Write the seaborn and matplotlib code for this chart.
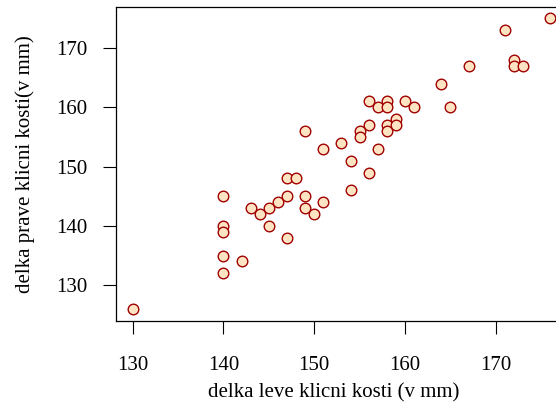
import seaborn as sns
import pandas as pd
import matplotlib.pyplot as plt

# left / right clavicle lengths (mm)
leva = [130, 140, 140, 140, 140, 140, 142, 143, 144, 145, 145, 146, 147, 147,
        148, 147, 149, 149, 149, 150, 151, 151, 153, 154, 154, 155, 155, 156,
        156, 156, 157, 157, 158, 158, 158, 158, 159, 159, 160, 161, 164, 165,
        167, 171, 172, 172, 173, 176]
prava = [126, 145, 140, 139, 135, 132, 134, 143, 142, 143, 140, 144, 145, 148,
         148, 138, 156, 145, 143, 142, 153, 144, 154, 151, 146, 156, 155, 157,
         161, 149, 160, 153, 161, 160, 157, 156, 158, 157, 161, 160, 164, 160,
         167, 173, 168, 167, 167, 175]

df = pd.DataFrame({'leva': leva, 'prava': prava})

sns.set_style('ticks')
plt.rcParams['font.family'] = ['Liberation Serif', 'DejaVu Serif']
plt.rcParams['text.color'] = 'black'
plt.rcParams['axes.labelcolor'] = 'black'
plt.rcParams['xtick.color'] = 'black'
plt.rcParams['ytick.color'] = 'black'

fig = plt.figure(figsize=(5.56, 4.05), dpi=100)
ax = fig.add_axes([0.2086, 0.2086, 0.811, 0.7745])

sns.scatterplot(data=df, x='leva', y='prava', ax=ax, s=58, color='bisque',
                edgecolor='#A00000', linewidth=1.0, zorder=3)

ax.set_xlim(128.16, 177.84)
ax.set_ylim(124.04, 176.96)
ax.set_xticks([130, 140, 150, 160, 170])
ax.set_yticks([130, 140, 150, 160, 170])
ax.tick_params(axis='both', labelsize=15, length=9.5, width=0.8)
ax.tick_params(axis='x', pad=16)
ax.tick_params(axis='y', pad=11)
ax.set_xlabel('delka leve klicni kosti (v mm)', fontsize=15)
ax.set_ylabel('delka prave klicni kosti(v mm)', fontsize=15, labelpad=15)
ax.xaxis.set_label_coords(0.482, -0.2)
for sp in ax.spines.values():
    sp.set_visible(True)
    sp.set_linewidth(0.9)
    sp.set_color('black')

fig.savefig('out.png', dpi=100)
